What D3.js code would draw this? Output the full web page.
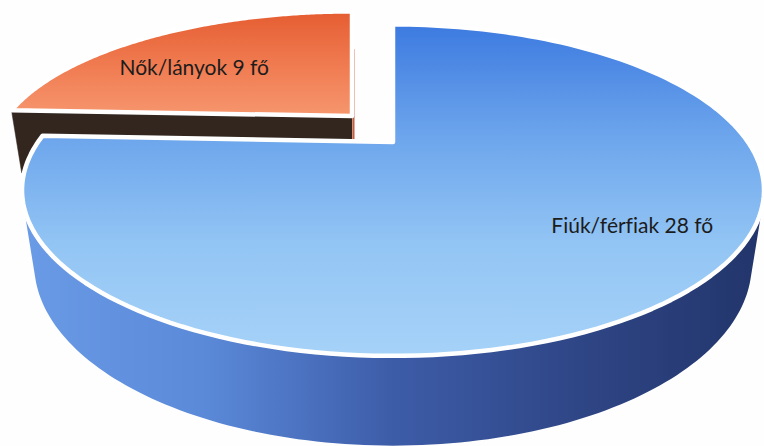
<!DOCTYPE html>
<html>
<head>
<meta charset="utf-8">
<script src="https://cdn.jsdelivr.net/npm/d3@7"></script>
<style>
  html, body { margin: 0; padding: 0; background: #fefefe; }
  svg { display: block; }
  text { font-variant-ligatures: none; font-feature-settings: "liga" 0; }
</style>
</head>
<body>
<svg id="chart"></svg>
<script>
// data
let categories = ['Nők/lányok', 'Fiúk/férfiak'];
let values = [9, 28];
let unit = 'fő';

let width = 764, height = 446;

// simple perspective camera for the 3D pie
let cx = 393, cy = 142;            // where the pie centre lands on screen
let tilt = 25.3 * Math.PI / 180;
let sinT = Math.sin(tilt), cosT = Math.cos(tilt);
let dist = 3.11, focal = 1104;
let thick = 0.228;                 // pie height, radius = 1

function project(x, y, z) {
  let depth = dist - (y * sinT + z * cosT);
  let up = y * cosT - z * sinT;
  return [cx + focal * x / depth, cy - focal * up / depth];
}

// per slice look: explode offset/scale on screen, colours, label placement
let looks = [
  { dx: -41, dy: -26, kx: 0.972, ky: 0.89,
    top: ['#e55d31', '#f07a50', '#f6966e'], face: '#32261f', edge: '#c85c3c',
    side: null, labelShift: -8, labelR: 0.65 },
  { dx: 0, dy: 0, kx: 1, ky: 1,
    top: ['#3c7ae0', '#6ca5ec', '#93c5f4', '#a6d2f8'], face: '#2f4fa0', edge: '#22449a',
    side: ['#6a9be6', '#5a89d8', '#3d5ca8', '#2f4686', '#22356b'], labelShift: -7, labelR: 0.75 }
];

let svg = d3.select('#chart')
  .attr('width', width)
  .attr('height', height)
  .style('background-color', '#fefefe');

let defs = svg.append('defs');

let total = d3.sum(values);
let start = -2 * Math.PI * values[0] / total;
let pie = d3.pie().sort(null).startAngle(start).endAngle(start + 2 * Math.PI);
let arcs = pie(values);

let line = d3.line().curve(d3.curveLinearClosed);

function rim(a, y) {
  return [Math.sin(a), y, -Math.cos(a)];
}

function place(p, look) {
  return [cx + look.dx + (p[0] - cx) * look.kx, cy + look.dy + (p[1] - cy) * look.ky];
}

function samples(a0, a1, n) {
  return d3.range(n + 1).map(i => a0 + (a1 - a0) * i / n);
}

// outer wall faces the camera where z > 1 / (dist * cos)
let k = 1 / (dist * cosT);
let vis0 = Math.acos(-k), vis1 = 2 * Math.PI - Math.acos(-k);

function gradient(id, stops, x1, y1, x2, y2) {
  let g = defs.append('linearGradient').attr('id', id)
    .attr('gradientUnits', 'userSpaceOnUse')
    .attr('x1', x1).attr('y1', y1).attr('x2', x2).attr('y2', y2);
  stops.forEach((c, i) => g.append('stop')
    .attr('offset', i / (stops.length - 1)).attr('stop-color', c));
}

let groups = svg.selectAll('g.slice')
  .data(arcs)
  .enter()
  .append('g')
  .attr('class', 'slice');

groups.each(function(d, i) {
  let g = d3.select(this);
  let look = looks[i];
  let a0 = d.startAngle, a1 = d.endAngle;
  let P = (x, y, z) => place(project(x, y, z), look);

  // outer wall
  let s0 = Math.max(a0, vis0), s1 = Math.min(a1, vis1);
  if (look.side && s1 > s0) {
    let topPts = samples(s0, s1, 120).map(a => P(...rim(a, 0)));
    let botPts = samples(s0, s1, 120).reverse().map(a => P(...rim(a, -thick)));
    let xs = topPts.map(p => p[0]);
    gradient('side' + i, look.side, d3.min(xs), 0, d3.max(xs), 0);
    g.append('path')
      .attr('d', line(topPts.concat(botPts)))
      .attr('fill', `url(#side${i})`);
  }

  // cut faces at both radial edges
  [[a0, -1], [a1, 1]].forEach(([a, sgn]) => {
    let nx = sgn * Math.cos(a), nz = sgn * Math.sin(a);
    let facing = nz * dist * cosT;
    let rt = P(...rim(a, 0)), rb = P(...rim(a, -thick));
    let ct = P(0, 0, 0), cb = P(0, -thick, 0);
    if (Math.abs(nz) < 0.05) {
      // seen almost edge on: a thin line
      let off = nx > 0 ? 1.5 : -1;
      g.append('line')
        .attr('x1', rb[0] + off).attr('y1', rb[1] - 14)
        .attr('x2', cb[0] + off).attr('y2', cb[1])
        .attr('stroke', look.edge)
        .attr('stroke-width', 2);
    } else if (facing > 0) {
      g.append('path')
        .attr('d', line([ct, rt, rb, cb]))
        .attr('fill', look.face)
        .attr('stroke', look.face)
        .attr('stroke-width', 0.5);
    }
  });

  // top surface
  let topPts = [P(0, 0, 0)].concat(samples(a0, a1, 160).map(a => P(...rim(a, 0))));
  let ys = topPts.map(p => p[1]);
  gradient('top' + i, look.top, 0, d3.min(ys), 0, d3.max(ys));
  g.append('path')
    .attr('d', line(topPts))
    .attr('fill', `url(#top${i})`)
    .attr('stroke', '#ffffff')
    .attr('stroke-width', 4.5)
    .attr('stroke-linejoin', 'round');

  // label
  let mid = (a0 + a1) / 2 + look.labelShift * Math.PI / 180;
  let lp = P(Math.sin(mid) * look.labelR, 0, -Math.cos(mid) * look.labelR);
  g.append('text')
    .attr('x', lp[0])
    .attr('y', lp[1])
    .attr('dy', '0.35em')
    .attr('text-anchor', 'middle')
    .style('font-family', 'Lato, "Open Sans", sans-serif')
    .style('font-size', '21px')
    .attr('fill', '#1c1c1c')
    .text(`${categories[i]} ${values[i]} ${unit}`);
});
</script>
</body>
</html>
